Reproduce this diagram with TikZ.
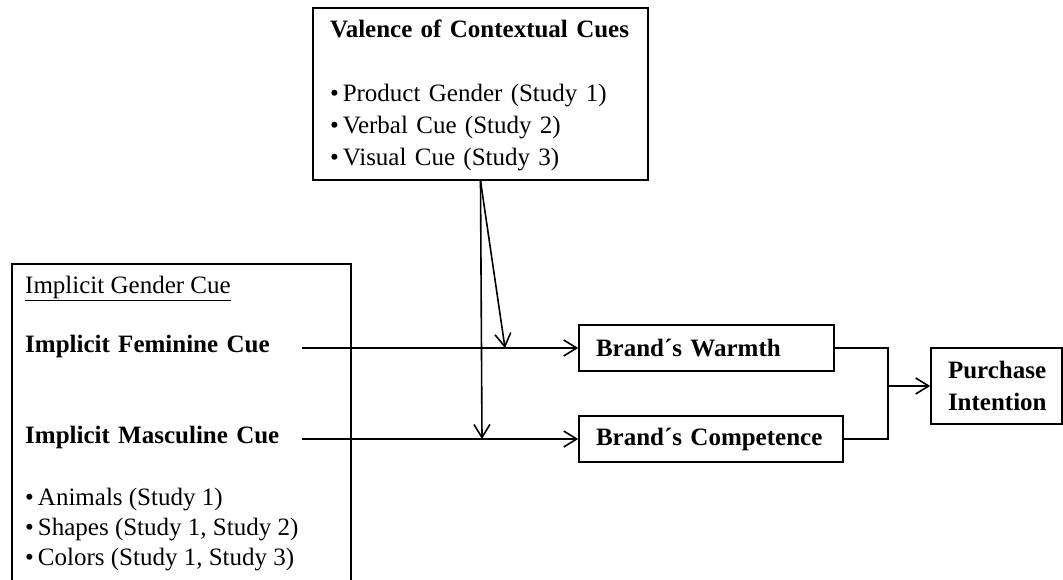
\documentclass[tikz,border=0pt]{standalone}
\usepackage{fontspec}
\setmainfont{Liberation Serif}
\usetikzlibrary{arrows.meta}
\begin{document}
\begin{tikzpicture}[x=1pt,y=-1pt,
  every node/.style={font=\fontsize{25}{32}\selectfont},
  bold/.style={font=\fontsize{25}{32}\selectfont\bfseries},
  box/.style={draw, line width=1.6pt, inner sep=0pt},
  conn/.style={line width=1.6pt},
  arr/.style={conn, -{Straight Barb[length=13pt,width=16pt,line width=1.6pt]}}]
\useasboundingbox (0,0) rectangle (1063,580);

% top box
\node[box, minimum height=172pt, inner xsep=17pt, text width=301pt, align=left] (valence) at (480.5,94)
  {\rule{0pt}{21.4pt}\textbf{Valence of Contextual Cues}\\[32pt]•\hspace{4pt}Product Gender (Study 1)\\•\hspace{4pt}Verbal Cue (Study 2)\\•\hspace{4pt}Visual Cue (Study 3)};

% left frame (open at the bottom)
\begin{scope}
  \clip (0,0) rectangle (1063,580);
  \node[box, anchor=north west, minimum width=339pt, minimum height=360pt] (cuebox) at (11,263) {};
\end{scope}
\node[anchor=base west, inner sep=0pt] (hdr) at (25,293) {\underline{Implicit Gender Cue}};
\node[bold, anchor=base west, inner sep=0pt, text width=277pt] (fem) at (25,352) {Implicit Feminine Cue};
\node[bold, anchor=base west, inner sep=0pt, text width=277pt] (masc) at (25,443) {Implicit Masculine Cue};
\node[anchor=north west, inner sep=0pt, align=left, font=\fontsize{25}{30}\selectfont] (studies) at (25,485)
  {\rule{0pt}{20pt}•\hspace{4pt}Animals (Study 1)\\•\hspace{4pt}Shapes (Study 1, Study 2)\\•\hspace{4pt}Colors (Study 1, Study 3)};

% mediators
\node[box, bold, minimum height=46pt, inner xsep=17pt, text width=221pt, align=left] (warmth) at (706.5,348) {Brand´s Warmth};
\node[box, bold, minimum height=46pt, inner xsep=17pt, text width=230pt, align=left] (comp) at (711,439) {Brand´s Competence};

% outcome
\node[box, bold, minimum height=76pt, inner xsep=17pt, text width=97pt, align=left] (purchase) at (996.5,386) {Purchase\\Intention};

% connectors
\coordinate (m1) at (505,348);
\coordinate (m2) at (482,439);
\coordinate (j) at (888,386);
\draw[arr] (fem.east |- warmth.west) -- (warmth.west);
\draw[arr] (masc.east |- comp.west) -- (comp.west);
\draw[arr] (valence.south) -- (m1);
\draw[arr] (valence.south) -- (m2);
\draw[conn] (warmth.east) -| (j) |- (comp.east);
\draw[arr] (j) -- (purchase.west);
\end{tikzpicture}
\end{document}
